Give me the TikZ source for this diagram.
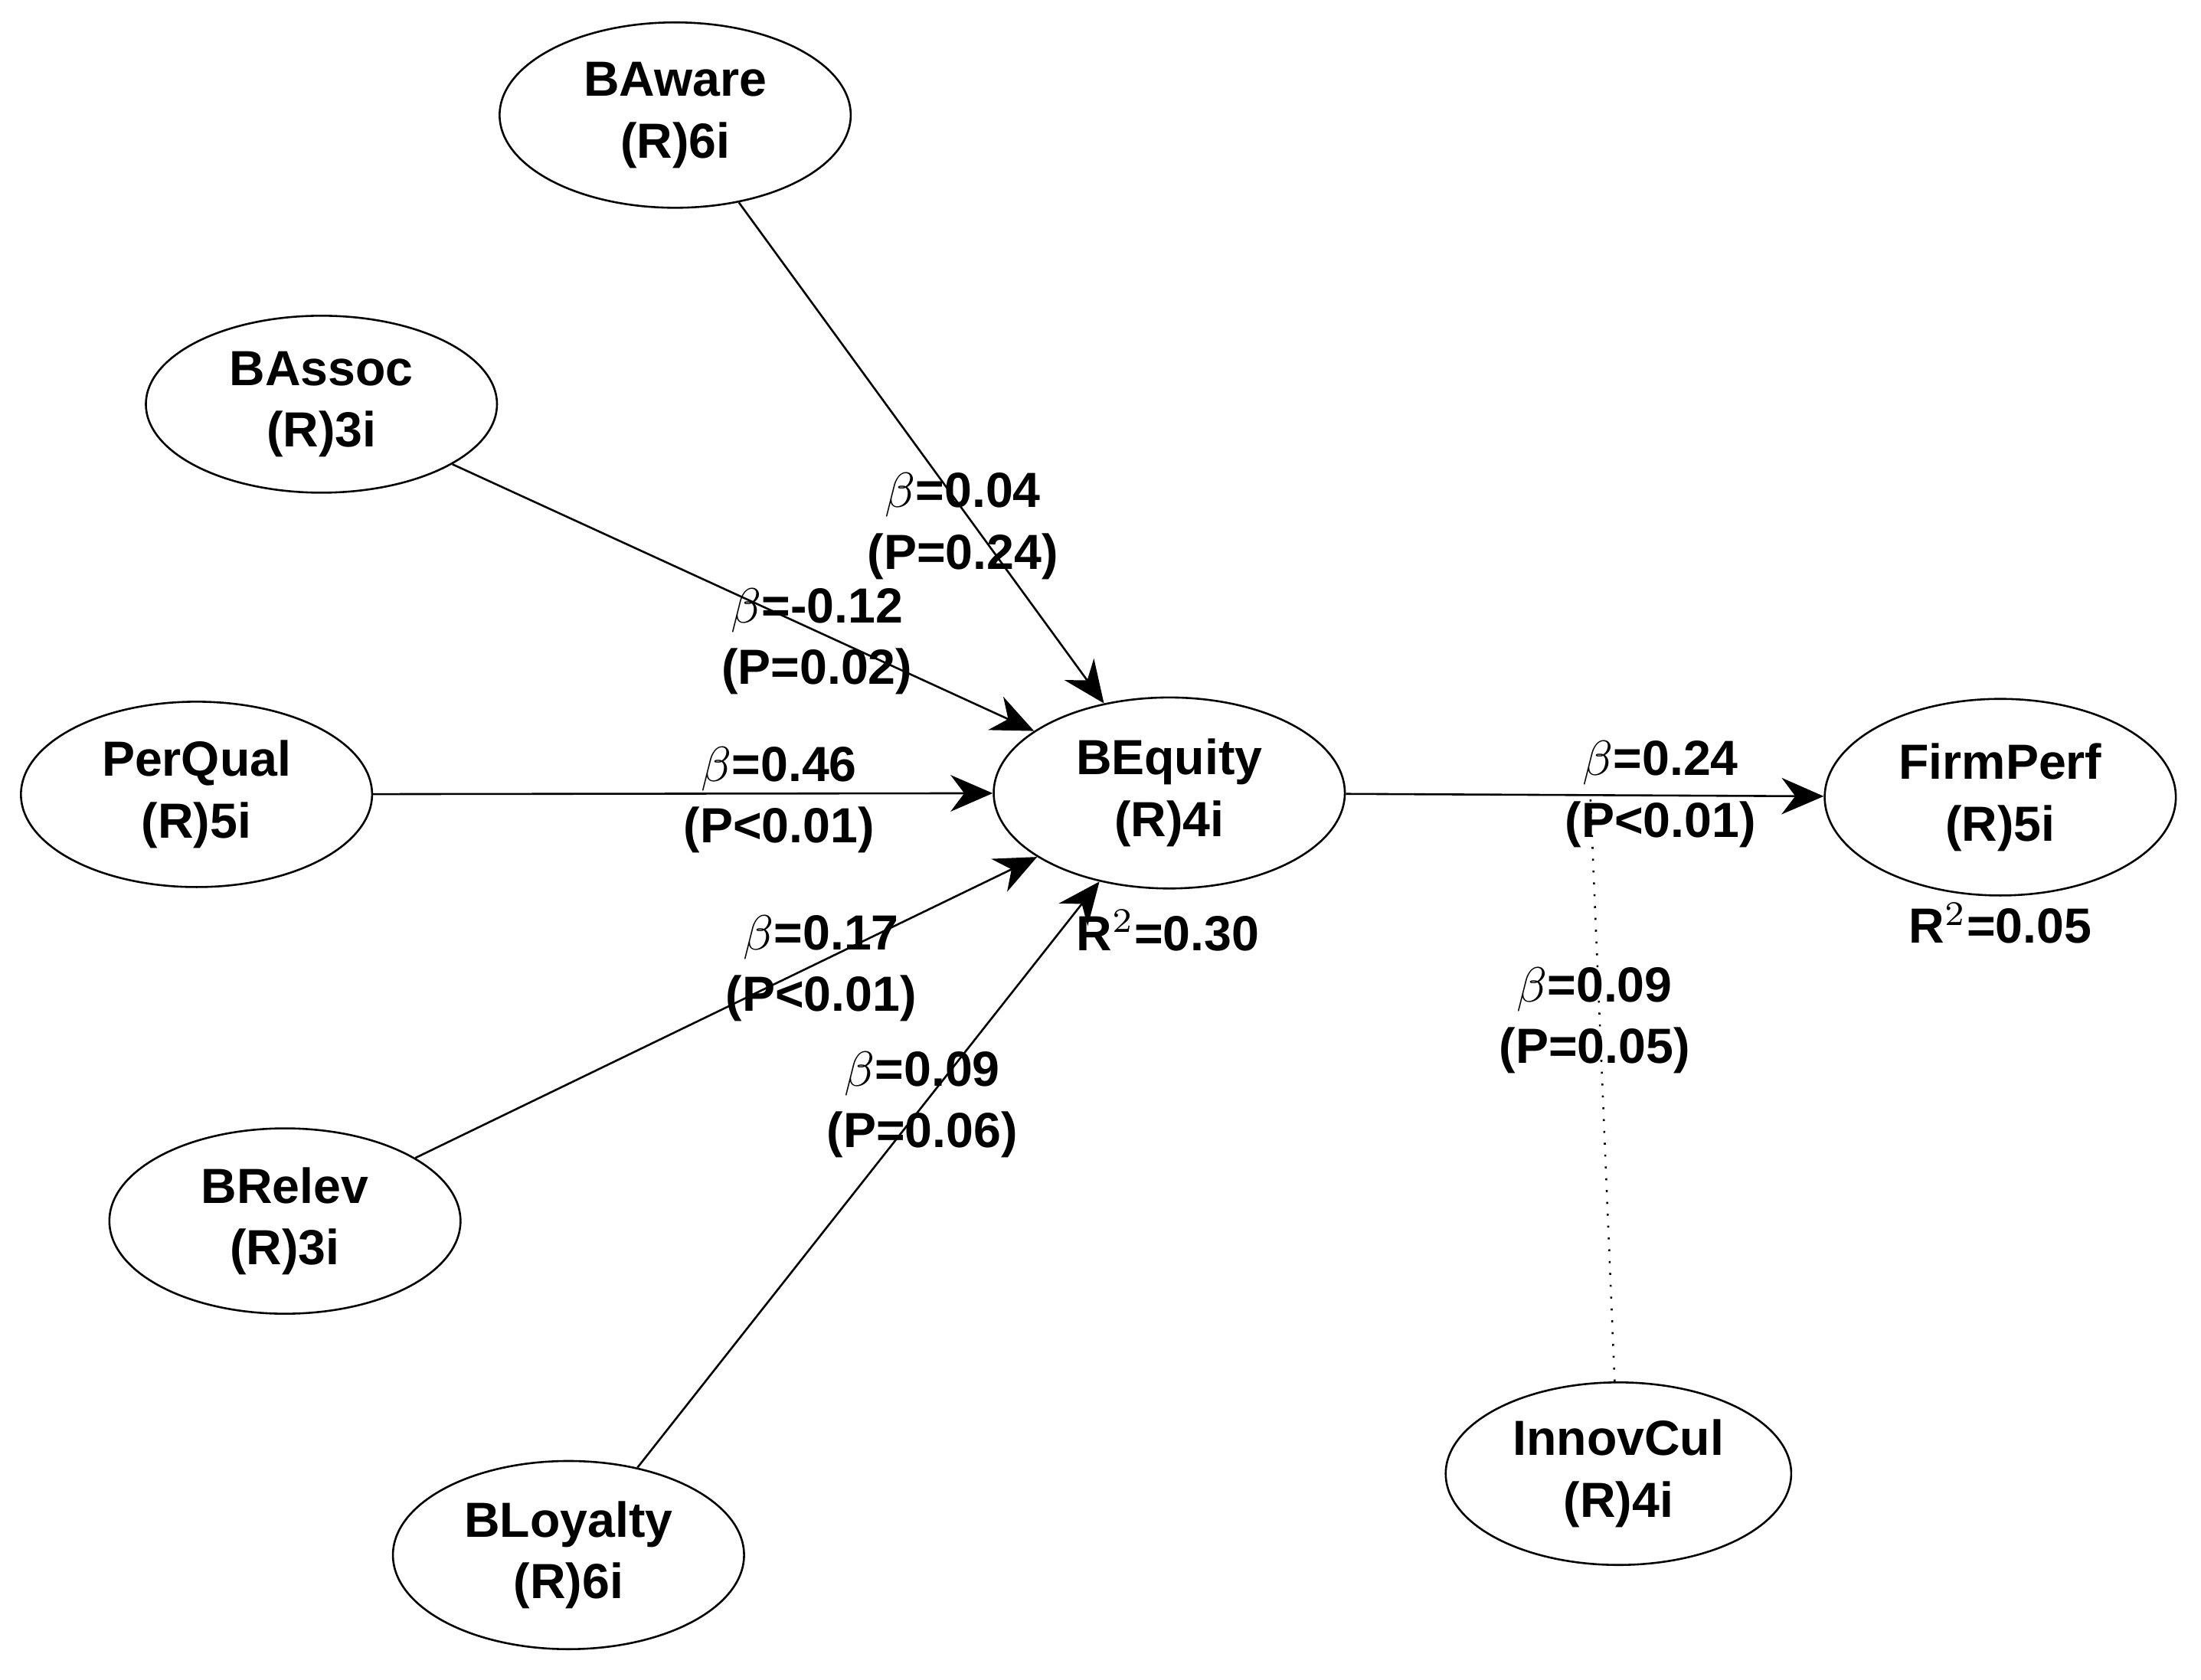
\documentclass[tikz,border=0pt]{standalone}
\usepackage{fontspec}
\setmainfont{Liberation Sans}
\usetikzlibrary{shapes.geometric,arrows.meta}
\begin{document}
\begin{tikzpicture}[x=0.01cm,y=-0.01cm,
  lat/.style={ellipse,draw,thin,minimum width=250\pgflinewidth*0+2.5cm,minimum height=1.32cm,align=center,font=\fontsize{10}{12.5}\selectfont\bfseries,inner sep=0pt},
  lbl/.style={align=center,font=\fontsize{10}{12.5}\selectfont\bfseries,inner sep=0pt},
  path/.style={draw,thin,-{Stealth[length=0.3cm,width=0.26cm]}}]
\useasboundingbox (0,0) rectangle (1568,1197);
\node[lat] (aware) at (481,82) {BAware\\(R)6i};
\node[lat,minimum height=1.26cm] (assoc) at (229,288) {BAssoc\\(R)3i};
\node[lat] (perq) at (140,566) {PerQual\\(R)5i};
\node[lat,minimum height=1.36cm] (beq) at (833,565) {BEquity\\(R)4i};
\node[lat,minimum height=1.4cm] (firm) at (1425,568) {FirmPerf\\(R)5i};
\node[lat] (relev) at (203,870) {BRelev\\(R)3i};
\node[lat,minimum height=1.34cm] (loy) at (405,1108) {BLoyalty\\(R)6i};
\node[lat,minimum width=2.46cm,minimum height=1.3cm] (innov) at (1153,1050) {InnovCul\\(R)4i};
\draw[path] (aware) -- (beq);
\draw[path] (assoc) -- (beq);
\draw[path] (perq) -- (beq);
\draw[path] (relev) -- (beq);
\draw[path] (loy) -- (beq);
\draw[path] (beq) -- (firm);
\coordinate (mod) at (1133,567);
\draw[thin,dotted] (innov) -- (mod);
\node[lbl] (l1) at (686,375) {$\beta$=0.04\\(P=0.24)};
\node[lbl] (l2) at (582,457) {$\beta$=-0.12\\(P=0.02)};
\node[lbl] (l3) at (555,570) {$\beta$=0.46\\(P<0.01)};
\node[lbl] (l4) at (585,690) {$\beta$=0.17\\(P<0.01)};
\node[lbl] (l5) at (657,787) {$\beta$=0.09\\(P=0.06)};
\node[lbl] (l6) at (1183,566) {$\beta$=0.24\\(P<0.01)};
\node[lbl] (l7) at (1136,727) {$\beta$=0.09\\(P=0.05)};
\node[lbl] (r1) at (832,663) {R$^2$=0.30};
\node[lbl] (r2) at (1425,658) {R$^2$=0.05};
\end{tikzpicture}
\end{document}
